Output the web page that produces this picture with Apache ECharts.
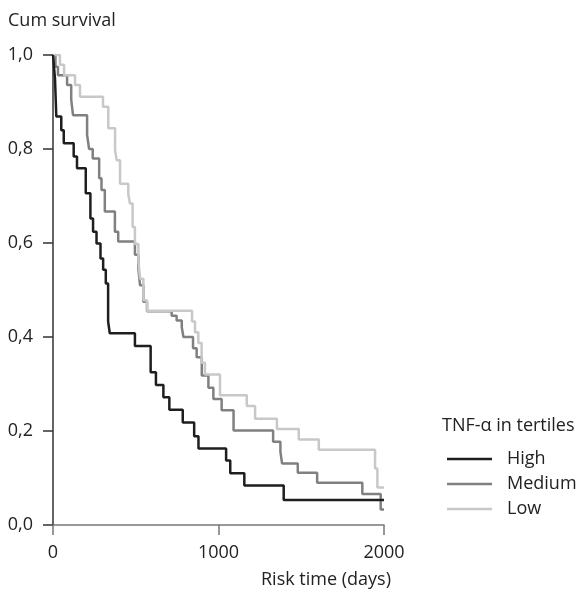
<!DOCTYPE html>
<html>
<head>
<meta charset="utf-8">
<script src="https://cdn.jsdelivr.net/npm/echarts@6/dist/echarts.min.js"></script>
<style>
  html, body { margin: 0; padding: 0; background: #fff; }
  #main { width: 581px; height: 590px; }
</style>
</head>
<body>
<div id="main"></div>
<script>
// Kaplan-Meier steps: day of event, survival after the step
const highDays = [0, 12, 20, 50, 65, 125, 145, 198, 226, 242, 263, 287, 303, 319, 333, 343, 495, 590, 622, 667, 703, 784, 853, 879, 1046, 1071, 1156, 1394, 2000];
const highSurv = [1.0, 0.95, 0.869, 0.84, 0.812, 0.784, 0.759, 0.706, 0.652, 0.624, 0.599, 0.567, 0.543, 0.514, 0.433, 0.408, 0.381, 0.325, 0.298, 0.272, 0.245, 0.218, 0.189, 0.163, 0.137, 0.11, 0.084, 0.053, 0.053];

const mediumDays = [0, 15, 30, 85, 110, 121, 206, 218, 240, 279, 293, 313, 374, 394, 495, 516, 526, 546, 568, 717, 747, 778, 788, 846, 868, 899, 939, 969, 1019, 1091, 1330, 1374, 1384, 1479, 1596, 1869, 1980, 2000];
const mediumSurv = [1.0, 0.975, 0.957, 0.936, 0.905, 0.872, 0.83, 0.80, 0.78, 0.738, 0.713, 0.667, 0.624, 0.603, 0.575, 0.545, 0.51, 0.475, 0.455, 0.445, 0.435, 0.421, 0.40, 0.376, 0.357, 0.318, 0.292, 0.268, 0.244, 0.201, 0.177, 0.156, 0.131, 0.111, 0.09, 0.066, 0.033, 0.033];

const lowDays = [0, 42, 67, 133, 163, 302, 334, 375, 385, 405, 455, 465, 481, 495, 516, 526, 546, 568, 840, 858, 878, 898, 918, 1009, 1171, 1221, 1353, 1485, 1606, 1946, 1960, 2000];
const lowSurv = [1.0, 0.979, 0.957, 0.936, 0.911, 0.89, 0.844, 0.797, 0.776, 0.726, 0.703, 0.684, 0.634, 0.598, 0.563, 0.524, 0.478, 0.456, 0.433, 0.41, 0.387, 0.345, 0.32, 0.276, 0.253, 0.226, 0.204, 0.182, 0.16, 0.12, 0.08, 0.08];

const groupNames = ['High', 'Medium', 'Low'];

const zip = (xs, ys) => xs.map((x, i) => [x, ys[i]]);
const font = '"Open Sans", "Noto Sans", sans-serif';

const chart = echarts.init(document.getElementById('main'));

const stepSeries = (name, days, surv, color, z) => ({
  name: name,
  type: 'line',
  step: 'end',
  data: zip(days, surv),
  showSymbol: false,
  symbol: 'none',
  z: z,
  lineStyle: { color: color, width: 2.5 },
  itemStyle: { color: color },
  emphasis: { disabled: true }
});

const option = {
  animation: false,
  grid: { left: 53, right: 197, top: 55, bottom: 65 },
  xAxis: {
    type: 'value',
    min: 0,
    max: 2000,
    interval: 1000,
    axisLine: { show: true, lineStyle: { color: '#777', width: 1.5 } },
    axisTick: { show: true, length: 10, lineStyle: { color: '#777', width: 1.5 } },
    splitLine: { show: false },
    axisLabel: { color: '#222', fontSize: 18, fontFamily: font, margin: 19, formatter: v => String(v) }
  },
  yAxis: {
    type: 'value',
    min: 0,
    max: 1,
    interval: 0.2,
    axisLine: { show: true, lineStyle: { color: '#333', width: 1.5 } },
    axisTick: { show: true, length: 10, lineStyle: { color: '#333', width: 1.5 } },
    splitLine: { show: false },
    axisLabel: {
      color: '#222', fontSize: 18, fontFamily: font, margin: 20,
      formatter: v => v.toFixed(1).replace('.', ',')
    }
  },
  legend: {
    data: groupNames,
    orient: 'vertical',
    left: 442,
    top: 445,
    icon: 'rect',
    itemWidth: 45,
    itemHeight: 2.5,
    itemGap: 7,
    textStyle: { color: '#222', fontSize: 18, fontFamily: font, padding: [0, 0, 0, 10] },
    selectedMode: false
  },
  graphic: [
    { type: 'text', left: 8, top: 12, style: { text: 'Cum survival', fill: '#222', font: '18px ' + font } },
    { type: 'text', right: 190, top: 571, style: { text: 'Risk time (days)', fill: '#222', font: '18px ' + font } },
    { type: 'text', left: 442, top: 417, style: { text: 'TNF-α in tertiles', fill: '#222', font: '18px ' + font } }
  ],
  series: [
    stepSeries('Medium', mediumDays, mediumSurv, '#808080', 2),
    stepSeries('Low', lowDays, lowSurv, '#c8c8c8', 3),
    stepSeries('High', highDays, highSurv, '#1e1e1e', 4)
  ]
};

chart.setOption(option);
</script>
</body>
</html>
